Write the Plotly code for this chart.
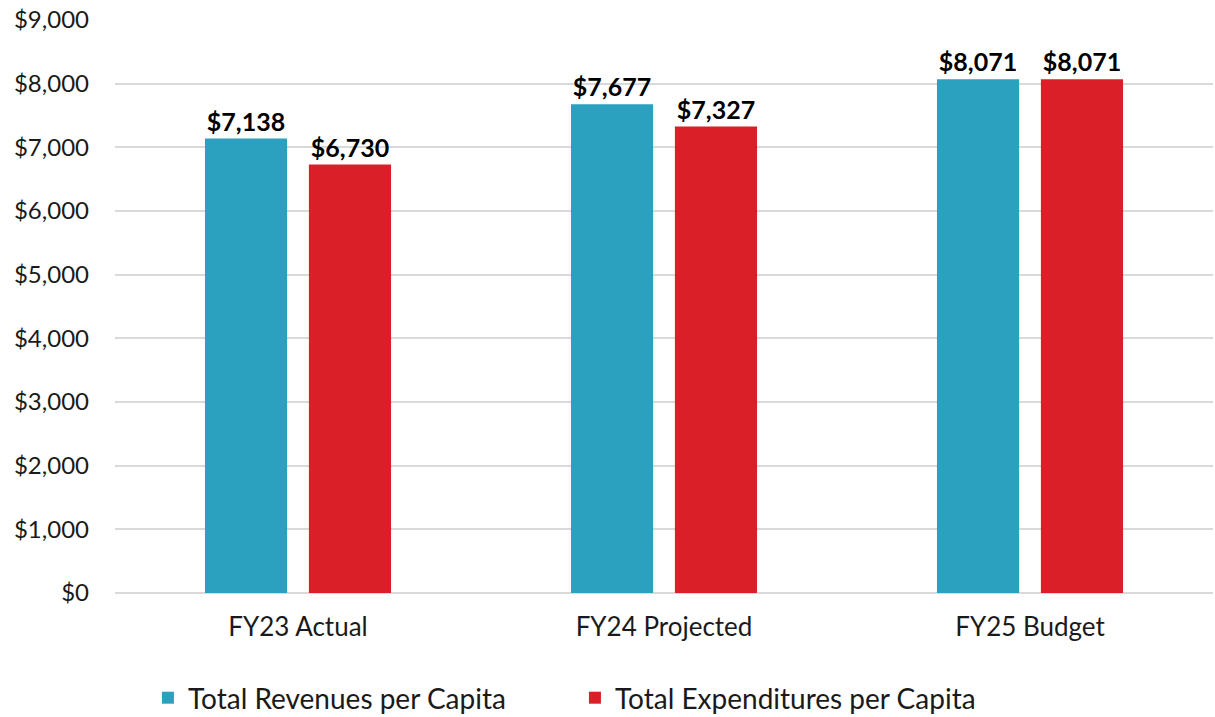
import plotly.graph_objects as go

categories = ["FY23 Actual", "FY24 Projected", "FY25 Budget"]
revenues = [7138, 7677, 8071]
expenditures = [6730, 7327, 8071]
y_ticks = [0, 1000, 2000, 3000, 4000, 5000, 6000, 7000, 8000, 9000]

teal = "#2ca1bf"
red = "#da1f28"

fig = go.Figure()
for name, vals, color in [
    ("Total Revenues per Capita", revenues, teal),
    ("Total Expenditures per Capita", expenditures, red),
]:
    fig.add_trace(
        go.Bar(
            x=categories,
            y=vals,
            name=name,
            marker=dict(color=color, line=dict(width=0)),
            text=[f"${v:,}" for v in vals],
            textposition="outside",
            textfont=dict(family="Lato", size=25, color="#000000", weight="bold"),
            cliponaxis=False,
        )
    )

fig.update_layout(
    width=1215,
    height=717,
    margin=dict(l=115, r=2, t=20, b=124),
    paper_bgcolor="#ffffff",
    plot_bgcolor="#ffffff",
    font=dict(family="Lato", size=24, color="#1a1a1a"),
    barmode="group",
    bargap=0.432,
    bargroupgap=0.21,
    showlegend=True,
    legend=dict(
        orientation="h",
        x=0.03,
        xanchor="left",
        yref="container",
        y=0.0265,
        yanchor="middle",
        font=dict(size=28),
        entrywidth=382,
        entrywidthmode="pixels",
    ),
    yaxis=dict(
        range=[0, 9000],
        tickvals=y_ticks,
        ticktext=[f"${v:,}" for v in y_ticks],
        showgrid=True,
        gridcolor="#d9d9d9",
        gridwidth=2,
        zeroline=True,
        zerolinecolor="#d9d9d9",
        zerolinewidth=2,
        ticks="",
        ticklabelstandoff=25,
        ticklabeloverflow="allow",
        automargin=False,
    ),
    xaxis=dict(
        ticks="",
        showline=False,
        tickfont=dict(size=26),
        ticklabelstandoff=16,
        automargin=False,
    ),
)

# drop the default 8px body margin so the figure fills the window exactly
fig.write_html(
    "out.html",
    config={"displayModeBar": False},
    post_script="document.body.style.margin = '0';",
)
